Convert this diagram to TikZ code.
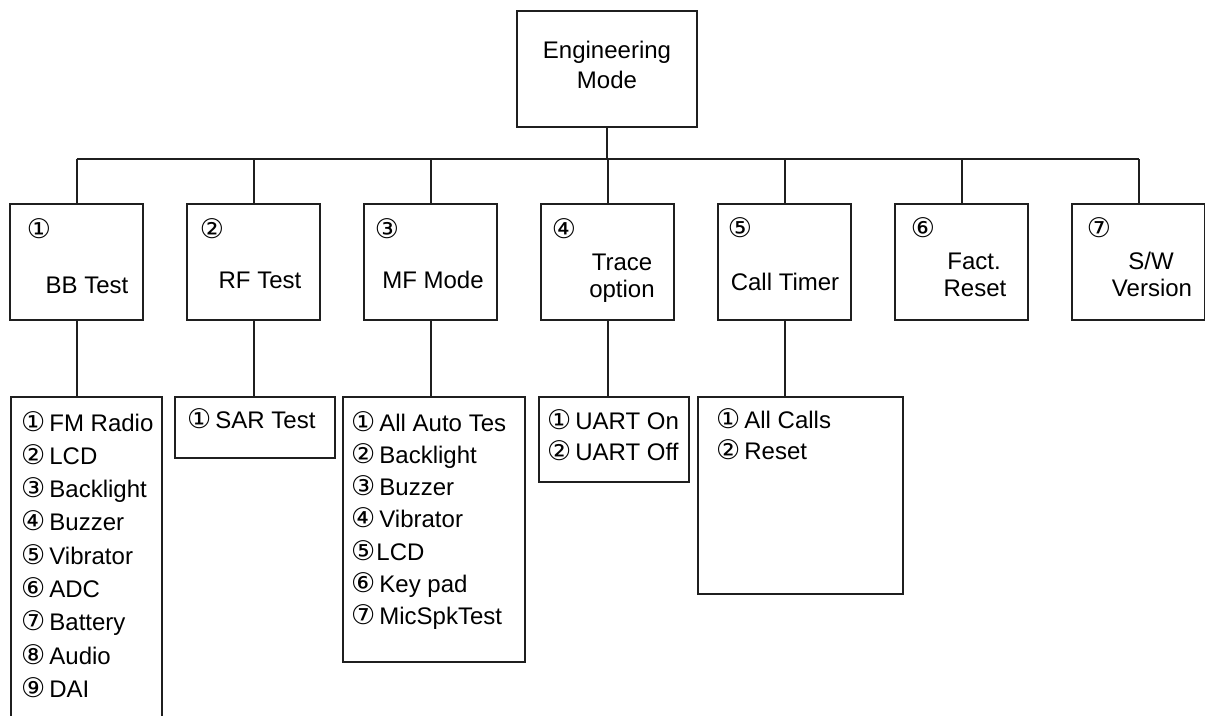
\documentclass[tikz,border=0pt]{standalone}
\usepackage{fontspec}
\setmainfont{Liberation Sans}
\newfontfamily\cf{DejaVu Sans}
\newcommand\cn[1]{{\fontsize{27}{28}\selectfont\cf #1}\hspace{4pt}}
\newcommand\cnt[1]{{\fontsize{27}{28}\selectfont\cf #1}\hspace{1pt}}
\begin{document}
\begin{tikzpicture}[x=1pt,y=-1pt,
  ink/.style={draw=black!88, line width=2pt},
  box/.style={ink, rectangle, inner sep=0pt, anchor=center},
  txt/.style={inner sep=0pt, anchor=base, font=\fontsize{24}{28}\selectfont},
  num/.style={inner sep=0pt, anchor=center, font=\fontsize{27}{30}\selectfont\cf},
  item/.style={inner sep=0pt, anchor=base west, font=\fontsize{24}{28}\selectfont}]
\clip (0,0) rectangle (1205,715);
\fill[white] (0,0) rectangle (1205,715);
% root
\node[box, minimum width=180pt, minimum height=116pt] (root) at (607,69) {};
\node[txt] (rt1) at (607,58) {Engineering};
\node[txt] (rt2) at (607,88) {Mode};
% level boxes
\foreach \i/\x in {1/76.5,2/253.5,3/430.5,4/607.5,5/784.5,6/961.5,7/1138.5}
  \node[box, minimum width=133pt, minimum height=116pt] (b\i) at (\x,262) {};
\coordinate (bus) at (0,159);
\draw[ink] (root.south) -- (root.south |- bus);
\draw[ink, line width=2.6pt] (b1.north |- bus) -- (b7.north |- bus);
\foreach \i in {1,...,7} \draw[ink] (b\i.north) -- (b\i.north |- bus);
% numbers
\node[num] (n1) at (39,229) {①};
\node[num] (n2) at (212,229) {②};
\node[num] (n3) at (387,229) {③};
\node[num] (n4) at (564,229) {④};
\node[num] (n5) at (740,228) {⑤};
\node[num] (n6) at (923,228) {⑥};
\node[num] (n7) at (1099,228) {⑦};
% labels
\node[txt] (t1) at (87,293) {BB Test};
\node[txt] (t2) at (260,288) {RF Test};
\node[txt] (t3) at (433,288) {MF Mode};
\node[txt] (t4a) at (622,270) {Trace};
\node[txt] (t4b) at (622,297) {option};
\node[txt] (t5) at (785,290) {Call Timer};
\node[txt] (t6a) at (974,269) {Fact.};
\node[txt] (t6b) at (975,296) {Reset};
\node[txt] (t7a) at (1151,269) {S/W};
\node[txt] (t7b) at (1152,296) {Version};
% lists
\node[box, minimum width=151pt, minimum height=340pt] (l1) at (86.5,567) {};
\node[box, minimum width=160pt, minimum height=61pt] (l2) at (255,427.5) {};
\node[box, minimum width=182pt, minimum height=265pt] (l3) at (434,529.5) {};
\node[box, minimum width=150pt, minimum height=85pt] (l4) at (614,439.5) {};
\node[box, minimum width=205pt, minimum height=197pt] (l5) at (800.5,495.5) {};
\draw[ink] (b1.south) -- (b1.south |- l1.north);
\draw[ink] (b2.south) -- (b2.south |- l2.north);
\draw[ink] (b3.south) -- (b3.south |- l3.north);
\draw[ink] (b4.south) -- (b4.south |- l4.north);
\draw[ink] (b5.south) -- (b5.south |- l5.north);
% list items
\foreach \k/\s in {0/{\cn{①}FM Radio},1/{\cn{②}LCD},2/{\cn{③}Backlight},3/{\cn{④}Buzzer},4/{\cn{⑤}Vibrator},5/{\cn{⑥}ADC},6/{\cn{⑦}Battery},7/{\cn{⑧}Audio},8/{\cn{⑨}DAI}}
  \node[item] (a\k) at (21,431+33.3*\k) {\s};
\node[item] (s0) at (187,428) {\cn{①}SAR Test};
\foreach \k/\s in {0/{\cn{①}All Auto Tes},1/{\cn{②}Backlight},2/{\cn{③}Buzzer},3/{\cn{④}Vibrator},4/{\cnt{⑤}LCD},5/{\cn{⑥}Key pad},6/{\cn{⑦}MicSpkTest}}
  \node[item] (m\k) at (351,431+32.3*\k) {\s};
\node[item] (u0) at (547,429) {\cn{①}UART On};
\node[item] (u1) at (547,460) {\cn{②}UART Off};
\node[item] (c0) at (716,428) {\cn{①}All Calls};
\node[item] (c1) at (716,459) {\cn{②}Reset};
\end{tikzpicture}
\end{document}
